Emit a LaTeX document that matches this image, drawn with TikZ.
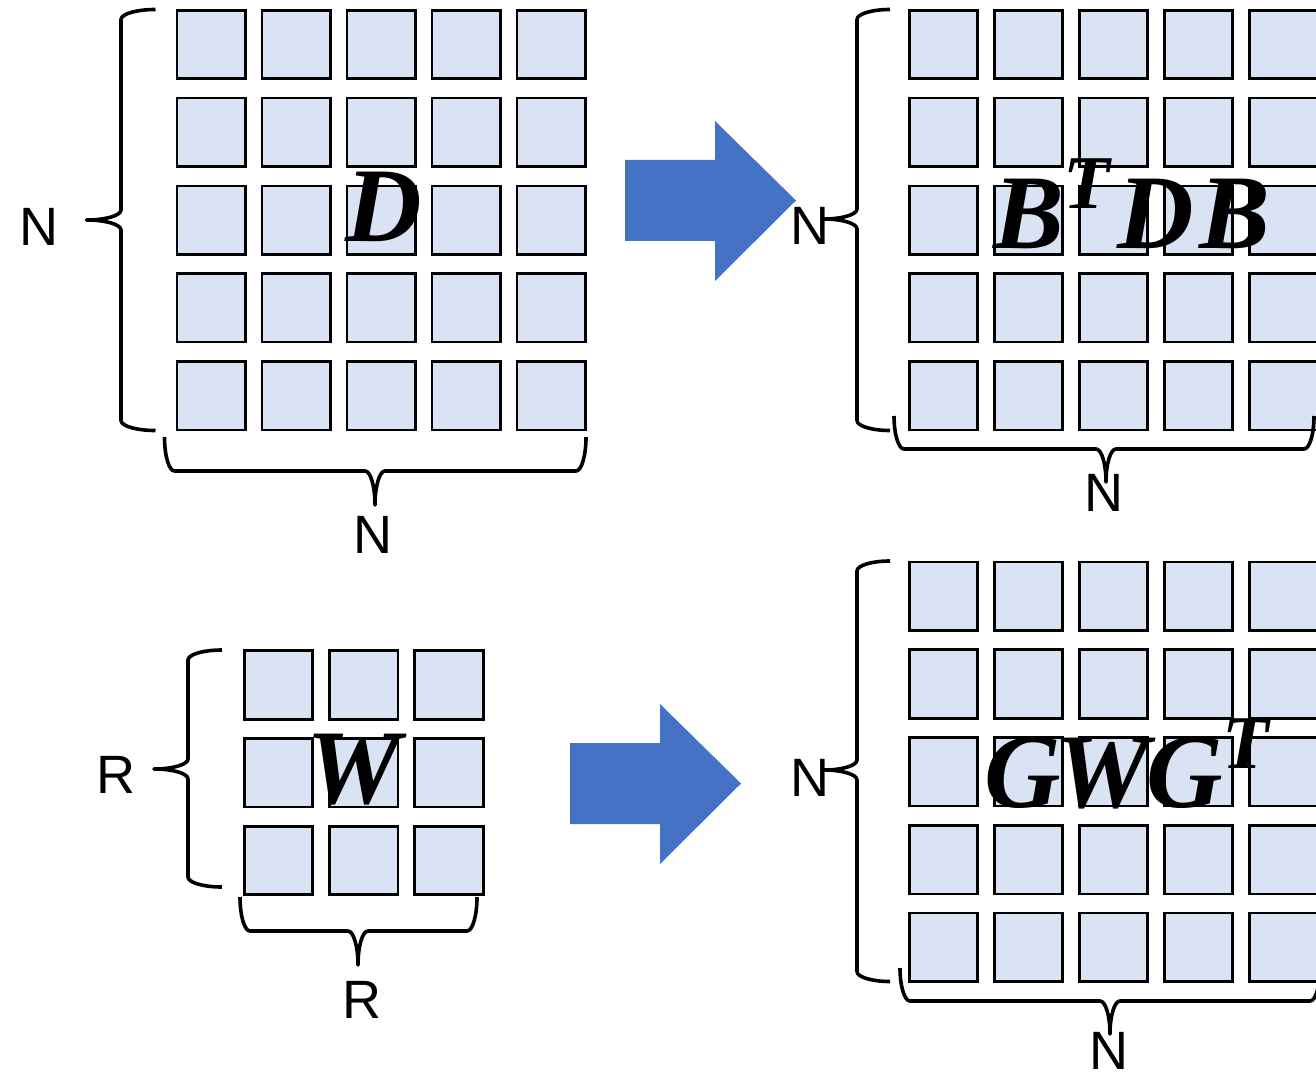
\documentclass[tikz,border=0pt]{standalone}
\usepackage{fontspec}
\setmainfont{Liberation Serif}
\newfontfamily\dimfont{Liberation Sans}
\newfontfamily\matfont{Liberation Serif}
\definecolor{cellblue}{HTML}{DAE3F3}
\definecolor{arrowblue}{HTML}{4472C4}

% vertical curly brace opening to the right:
% #1 x of the spine, #2 top, #3 tip height, #4 bottom, #5 depth, #6 curl
\newcommand{\curlyvert}[6]{%
  \draw[bracestyle] ({#1+#5},#2)
    .. controls ({#1+#5-0.5523*#5},#2) and (#1,{#2+#6-0.5523*#6}) .. (#1,{#2+#6})
    -- (#1,{#3-#6})
    .. controls (#1,{#3-#6+0.5523*#6}) and ({#1-#5+0.5523*#5},#3) .. ({#1-#5},#3)
    .. controls ({#1-#5+0.5523*#5},#3) and (#1,{#3+#6-0.5523*#6}) .. (#1,{#3+#6})
    -- (#1,{#4-#6})
    .. controls (#1,{#4-#6+0.5523*#6}) and ({#1+#5-0.5523*#5},#4) .. ({#1+#5},#4);}

% horizontal curly brace opening upwards:
% #1 y of the spine, #2 left, #3 tip position, #4 right, #5 depth, #6 curl
\newcommand{\curlyhorz}[6]{%
  \draw[bracestyle] (#2,{#1-#5})
    .. controls (#2,{#1-#5+0.5523*#5}) and ({#2+#6-0.5523*#6},#1) .. ({#2+#6},#1)
    -- ({#3-#6},#1)
    .. controls ({#3-#6+0.5523*#6},#1) and (#3,{#1+#5-0.5523*#5}) .. (#3,{#1+#5})
    .. controls (#3,{#1+#5-0.5523*#5}) and ({#3+#6-0.5523*#6},#1) .. ({#3+#6},#1)
    -- ({#4-#6},#1)
    .. controls ({#4-#6+0.5523*#6},#1) and (#4,{#1-#5+0.5523*#5}) .. (#4,{#1-#5});}

\begin{document}
\begin{tikzpicture}[x=1pt,y=-1pt,
  cell/.style={draw=black, line width=2.6pt, fill=cellblue,
    minimum width=68.5pt, minimum height=68.5pt, inner sep=0pt, outer sep=0pt},
  bracestyle/.style={draw=black, line width=3.6pt, line join=round},
  dimlabel/.style={font=\dimfont\fontsize{54}{54}\selectfont, anchor=base, inner sep=0pt},
  matlabel/.style={font=\matfont\bfseries\itshape\fontsize{106}{106}\selectfont, anchor=base, inner sep=0pt},
  blockarrow/.style={fill=arrowblue, draw=none}]
\useasboundingbox (0,0) rectangle (1316,1075);
\clip (0,0) rectangle (1316,1075);

% matrix D (N x N)
\foreach \i in {0,...,4}
  \foreach \j in {0,...,4}
    \node[cell] (D-\i-\j) at ({211.2+85*\j},{44.5+87.8*\i}) {};
% matrix B^T D B (N x N)
\foreach \i in {0,...,4}
  \foreach \j in {0,...,4}
    \node[cell] (BDB-\i-\j) at ({943.5+85*\j},{44.5+87.8*\i}) {};
% matrix W (R x R)
\foreach \i in {0,...,2}
  \foreach \j in {0,...,2}
    \node[cell] (W-\i-\j) at ({278.5+85.25*\j},{685+87.75*\i}) {};
% matrix G W G^T (N x N)
\foreach \i in {0,...,4}
  \foreach \j in {0,...,4}
    \node[cell] (GWG-\i-\j) at ({943.5+85*\j},{596.2+87.8*\i}) {};

% matrix names
\node[matlabel] (nameD) at (383.5,241) {D};
\node[matlabel] (nameBDB) at (1132,249)
  {B\kern-1pt\raisebox{40pt}{\fontsize{76}{76}\selectfont T}\kern8pt D\kern5pt B};
\node[matlabel] (nameW) at (354,803) {W};
\node[matlabel] (nameGWG) at (1127,807)
  {G\kern-6pt W\kern-3pt G\raisebox{39pt}{\fontsize{76}{76}\selectfont T}};

% braces
\curlyvert{121}{9.5}{220}{430.5}{34.5}{10}
\curlyhorz{471}{164.5}{375}{586}{34}{10}
\curlyvert{857}{9.5}{219}{430.5}{33}{10}
\curlyhorz{449}{894}{1106}{1314}{33}{10}
\curlyvert{188}{650}{769}{887}{34}{10}
\curlyhorz{931}{240}{358}{477}{34}{10}
\curlyvert{857}{561}{770}{981.5}{33}{10}
\curlyhorz{1001}{900}{1110}{1320}{33}{10}

% dimension labels
\node[dimlabel] (nDl) at (38.5,246) {N};
\node[dimlabel] (nDb) at (372.5,553) {N};
\node[dimlabel] (nBl) at (809.5,244) {N};
\node[dimlabel] (nBb) at (1103.5,511) {N};
\node[dimlabel] (rWl) at (116,793) {R};
\node[dimlabel] (rWb) at (361.5,1018) {R};
\node[dimlabel] (nGl) at (809.5,796) {N};
\node[dimlabel] (nGb) at (1108.5,1069) {N};

% block arrows
\fill[blockarrow] (625,160) -- (715,160) -- (715,121) -- (796,200.5)
  -- (715,281) -- (715,241) -- (625,241) -- cycle;
\fill[blockarrow] (570,743) -- (660,743) -- (660,704) -- (741,783.5)
  -- (660,864) -- (660,824) -- (570,824) -- cycle;
\end{tikzpicture}
\end{document}
